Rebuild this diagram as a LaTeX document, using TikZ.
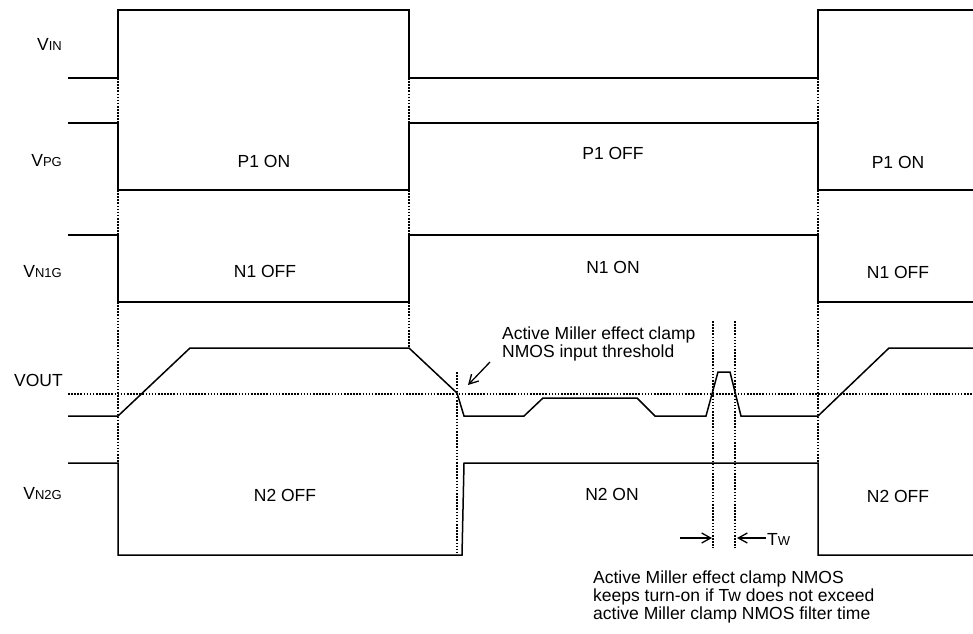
\documentclass[tikz,border=0pt]{standalone}
\usepackage{fontspec}
\setmainfont{Liberation Sans}
\usetikzlibrary{arrows.meta}
\begin{document}
\begin{tikzpicture}[x=1pt,y=-1pt,
  wave/.style={line width=1.5pt,line join=miter},
  dotln/.style={line width=1.6pt,dash pattern=on 1.6pt off 1.5pt},
  lbl/.style={inner sep=0pt,font=\fontsize{17.5}{18}\selectfont},
  sig/.style={lbl,anchor=east},
  note/.style={lbl,align=left,anchor=north west,font=\fontsize{17.5}{18}\selectfont},
  barb/.style={line width=1.3pt,-{Straight Barb[length=9pt,width=10pt,line width=1.3pt]}}]
\newcommand{\sm}[1]{{\fontsize{13}{13}\selectfont #1}}
\useasboundingbox (0,0) rectangle (973,633);
% signal names
\node[sig] (lin) at (62,44) {V\sm{IN}};
\node[sig] (lpg) at (62,161) {V\sm{PG}};
\node[sig] (ln1) at (62,272) {V\sm{N1G}};
\node[sig] (lout) at (63,380) {VOUT};
\node[sig] (ln2) at (62,494) {V\sm{N2G}};
% threshold
\draw[dotln] (68,394) -- (973,394);
% dotted verticals
\foreach \x in {118,818}{
  \draw[dotln] (\x,78) -- (\x,122);
  \draw[dotln] (\x,190) -- (\x,235);
  \draw[dotln] (\x,302) -- (\x,463);
}
\draw[dotln] (409,78) -- (409,122);
\draw[dotln] (409,190) -- (409,235);
\draw[dotln] (409,302) -- (409,348);
\draw[dotln] (457,372) -- (457,555);
\draw[dotln] (713,321) -- (713,548);
\draw[dotln] (735,321) -- (735,548);
% waveforms
\draw[wave] (68,78) -- (118,78) -- (118,10) -- (409,10) -- (409,78) -- (818,78) -- (818,10) -- (973,10);
\draw[wave] (68,123) -- (118,123) -- (118,190) -- (409,190) -- (409,123) -- (818,123) -- (818,190) -- (973,190);
\draw[wave] (68,235) -- (118,235) -- (118,302) -- (409,302) -- (409,235) -- (818,235) -- (818,302) -- (973,302);
\draw[wave] (68,416) -- (118,416) -- (190,348) -- (409,348) -- (457,393) -- (464,416) -- (524,416) -- (543,398) -- (637,398) -- (655,416) -- (706,416) -- (718,372) -- (730,372) -- (741,416) -- (818,416) -- (889,348) -- (973,348);
\draw[wave] (68,463) -- (118,463) -- (118,555) -- (462,555) -- (464,463) -- (818,463) -- (818,555) -- (973,555);
% state labels
\node[lbl] (p1a) at (264,161) {P1 ON};
\node[lbl] (p1b) at (613,153) {P1 OFF};
\node[lbl] (p1c) at (898,162) {P1 ON};
\node[lbl] (n1a) at (265,271) {N1 OFF};
\node[lbl] (n1b) at (613,267) {N1 ON};
\node[lbl] (n1c) at (898,272) {N1 OFF};
\node[lbl] (n2a) at (285,495) {N2 OFF};
\node[lbl] (n2b) at (612,494) {N2 ON};
\node[lbl] (n2c) at (898,496) {N2 OFF};
% Miller threshold annotation
\node[note] (mil) at (502,327) {Active Miller effect clamp\\NMOS input threshold};
\coordinate (mtip) at (468,385);
\coordinate (mtail) at (490,362);
\draw[barb] (mtail) -- (mtip);
% Tw
\coordinate (twa) at (680,538);
\coordinate (twb) at (712,538);
\coordinate (twc) at (766,538);
\coordinate (twd) at (737,538);
\draw[barb] (twa) -- (twb);
\draw[barb] (twc) -- (twd);
\node[lbl,anchor=west] (tw) at (767,539) {T\sm{W}};
% bottom note
\node[note] (bot) at (593,571) {Active Miller effect clamp NMOS\\keeps turn-on if Tw does not exceed\\active Miller clamp NMOS filter time};
\end{tikzpicture}
\end{document}
